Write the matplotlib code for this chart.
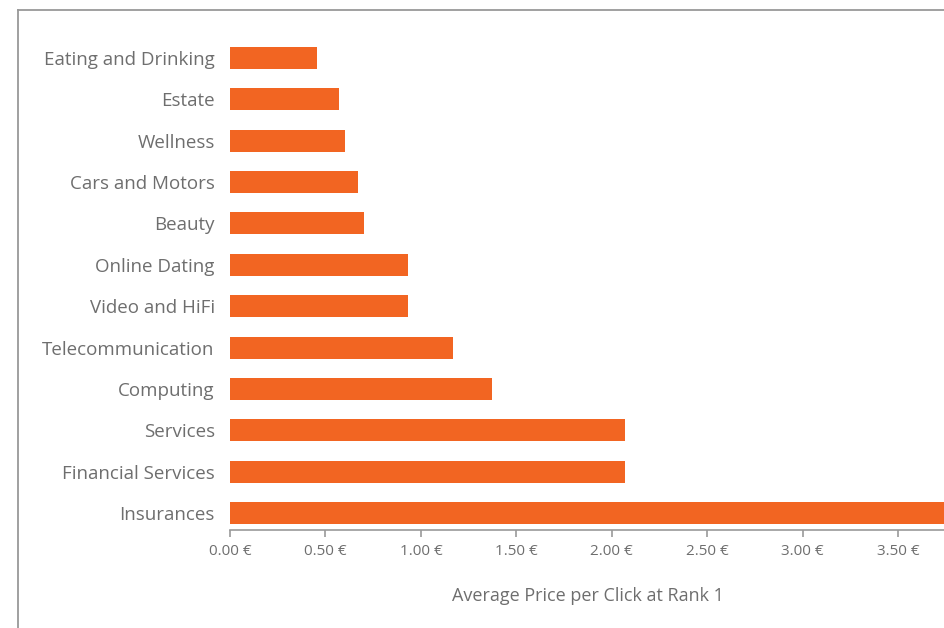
import matplotlib.pyplot as plt
from matplotlib.lines import Line2D

categories = ["Insurances", "Financial Services", "Services", "Computing",
              "Telecommunication", "Video and HiFi", "Online Dating", "Beauty",
              "Cars and Motors", "Wellness", "Estate", "Eating and Drinking"]
prices = [3.80, 2.07, 2.07, 1.37, 1.17, 0.93, 0.93, 0.70, 0.67, 0.60, 0.57, 0.455]
ticks = [0, 0.5, 1.0, 1.5, 2.0, 2.5, 3.0, 3.5]
tick_labels = ["0.00 €", "0.50 €", "1.00 €", "1.50 €", "2.00 €", "2.50 €", "3.00 €", "3.50 €"]

orange = "#F26522"
grey = "#6e6e6e"
plt.rcParams['font.family'] = ['Open Sans', 'DejaVu Sans']

fig = plt.figure(figsize=(9.45, 6.28), dpi=100)
ax = fig.add_axes([230/945, 98/628, 1 - 230/945, 492.7/628])

ax.barh(range(len(categories)), prices, height=0.53, color=orange)
ax.set_xlim(0, 3.745)
ax.set_ylim(-0.41, 11.5)
ax.set_yticks(range(len(categories)))
ax.set_yticklabels(categories, fontsize=13.5, color=grey)
ax.set_xticks(ticks)
ax.set_xticklabels(tick_labels, fontsize=11, color=grey)
ax.tick_params(axis='y', length=0, pad=11)
ax.tick_params(axis='x', length=5, color="#999999", width=1.2, pad=5)
for s in ["top", "right", "left"]:
    ax.spines[s].set_visible(False)
ax.spines["bottom"].set_color("#999999")
ax.spines["bottom"].set_linewidth(1.2)
ax.set_xlabel("Average Price per Click at Rank 1", fontsize=13, color=grey, labelpad=20)

# outer frame (cropped box)
fig.add_artist(Line2D([18/945, 18/945], [0, 1 - 10/628], color="#999999", lw=1.3))
fig.add_artist(Line2D([18/945, 1], [1 - 10/628, 1 - 10/628], color="#999999", lw=1.3))

fig.savefig("out.png", dpi=100)
